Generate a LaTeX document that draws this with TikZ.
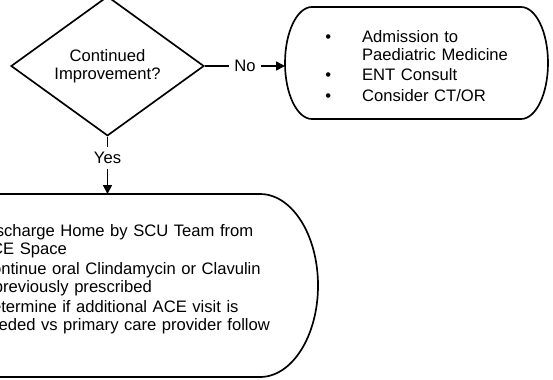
\documentclass[tikz,border=0pt]{standalone}
\usepackage{fontspec}
\setmainfont{Liberation Sans}
\usepackage{enumitem}
\usetikzlibrary{shapes.geometric,arrows.meta}

\newlist{outlist}{itemize}{1}
\setlist[outlist]{label=\textbullet, nosep, itemsep=1.2pt, leftmargin=20pt, labelsep=17.6pt, rightmargin=-15pt}

\tikzset{
  decision/.style={diamond, draw, line width=0.95pt, align=center, minimum width=3.86cm, minimum height=2.76cm, inner sep=0pt},
  outcome/.style={rectangle, outer sep=0pt, inner sep=0pt},
  lbl/.style={fill=white, inner sep=3pt}
}

% outline with half-elliptic ends round a named node
\newcommand{\drawcapsule}[3]{%
  \draw[line width=0.95pt] ([xshift=#2]#1.north west) -- ([xshift=-#2]#1.north east)
    arc[start angle=90, end angle=-90, x radius=#2, y radius=#3]
    -- ([xshift=#2]#1.south west)
    arc[start angle=270, end angle=90, x radius=#2, y radius=#3] -- cycle;}

\begin{document}
\begin{tikzpicture}[>={Triangle[length=5pt,width=5pt]}, font=\fontsize{9.45}{10.24}\selectfont]
  \useasboundingbox (0,0) rectangle (11.06,7.58);
  \clip (0,0) rectangle (11.06,7.58);

  \node[decision] (improve) at (2.15,6.26) {Continued\\Improvement?};
  \node[outcome, minimum width=5.26cm, minimum height=2.24cm, text width=3.58cm] (admit) at (8.33,6.32)
    {\begin{outlist}
      \item Admission to\newline Paediatric Medicine
      \item ENT Consult
      \item Consider CT/OR
    \end{outlist}};
  \node[outcome, minimum width=8.42cm, minimum height=3.66cm, text width=6.5cm] (home) at (2.15,1.87)
    {\begin{outlist}
      \item Discharge Home by SCU Team from\newline ACE Space
      \item Continue oral Clindamycin or Clavulin\newline if previously prescribed
      \item Determine if additional ACE visit is\newline needed vs primary care provider follow\newline up
    \end{outlist}};

  \drawcapsule{admit}{0.54cm}{1.12cm}
  \drawcapsule{home}{1.16cm}{1.83cm}

  \draw[->,line width=0.95pt] (improve.east) -- node[lbl] {No} (improve.east -| admit.west);
  \draw[->,line width=0.95pt] (improve.south) -- node[lbl,pos=0.37] {Yes} (home.north);
\end{tikzpicture}
\end{document}
